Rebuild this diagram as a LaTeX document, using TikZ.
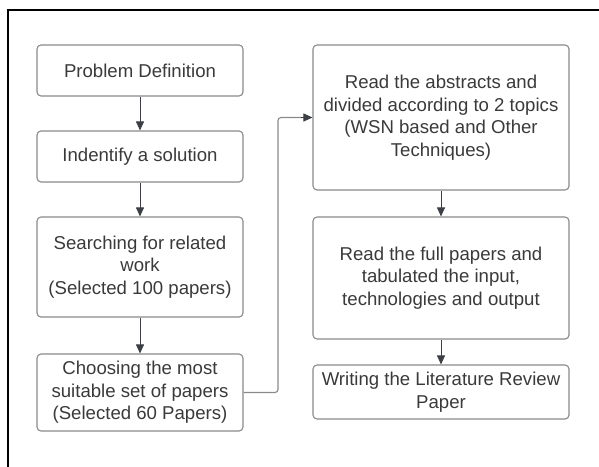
\documentclass[tikz,border=0pt]{standalone}
\usepackage{fontspec}
\setmainfont{Liberation Sans}
\usetikzlibrary{arrows.meta}
\definecolor{boxline}{HTML}{8A8A8A}
\definecolor{txt}{HTML}{3A3A3A}
\definecolor{arr}{HTML}{3C3F46}
\tikzset{
  stepbox/.style={draw=boxline, line width=1.1pt, rounded corners=4pt, fill=white,
    text=txt, align=center, inner sep=0pt,
    font=\fontsize{18.6}{22.5}\selectfont},
  flow/.style={draw=arr, line width=0.9pt, -{Triangle[length=9pt,width=8pt]}},
}
\begin{document}
\begin{tikzpicture}[x=1pt,y=-1pt]
\clip (0,0) rectangle (599,466);
\useasboundingbox (0,0) rectangle (599,466);
\fill[white] (0,0) rectangle (599,466);
% outer frame, running past the page on the right and bottom
\draw[black, line width=2pt] (8,10) rectangle (620,490);

% left column
\node[stepbox, minimum width=206pt, minimum height=51pt] (def) at (140,70.5) {Problem Definition};
\node[stepbox, minimum width=206pt, minimum height=51pt] (sol) at (140,156.5) {Indentify a solution};
\node[stepbox, minimum width=206pt, minimum height=100pt] (search) at (140,267) {Searching for related\\work\\(Selected 100 papers)};
\node[stepbox, minimum width=206pt, minimum height=77pt] (choose) at (140,392.5) {Choosing the most\\suitable set of papers\\(Selected 60 Papers)};

% right column
\node[stepbox, minimum width=256pt, minimum height=145pt] (abs) at (441,117.5) {Read the abstracts and\\divided according to 2 topics\\(WSN based and Other\\Techniques)};
\node[stepbox, minimum width=256pt, minimum height=122pt] (full) at (441,278) {Read the full papers and\\tabulated the input,\\technologies and output};
\node[stepbox, minimum width=256pt, minimum height=54pt] (write) at (441,392) {Writing the Literature Review\\Paper};

% connectors
\draw[flow] (def) -- (sol);
\draw[flow] (sol) -- (search);
\draw[flow] (search) -- (choose);
\draw[flow] (abs) -- (full);
\draw[flow] (full) -- (write);
\coordinate (low) at (278,392.5);
\coordinate (high) at (278,117.5);
\draw[draw=boxline, line width=1.1pt, rounded corners=3pt] (choose.east) -- (low) -- (high) -- ([xshift=-10pt]abs.west);
\draw[flow] ([xshift=-11pt]abs.west) -- (abs.west);
\end{tikzpicture}
\end{document}
